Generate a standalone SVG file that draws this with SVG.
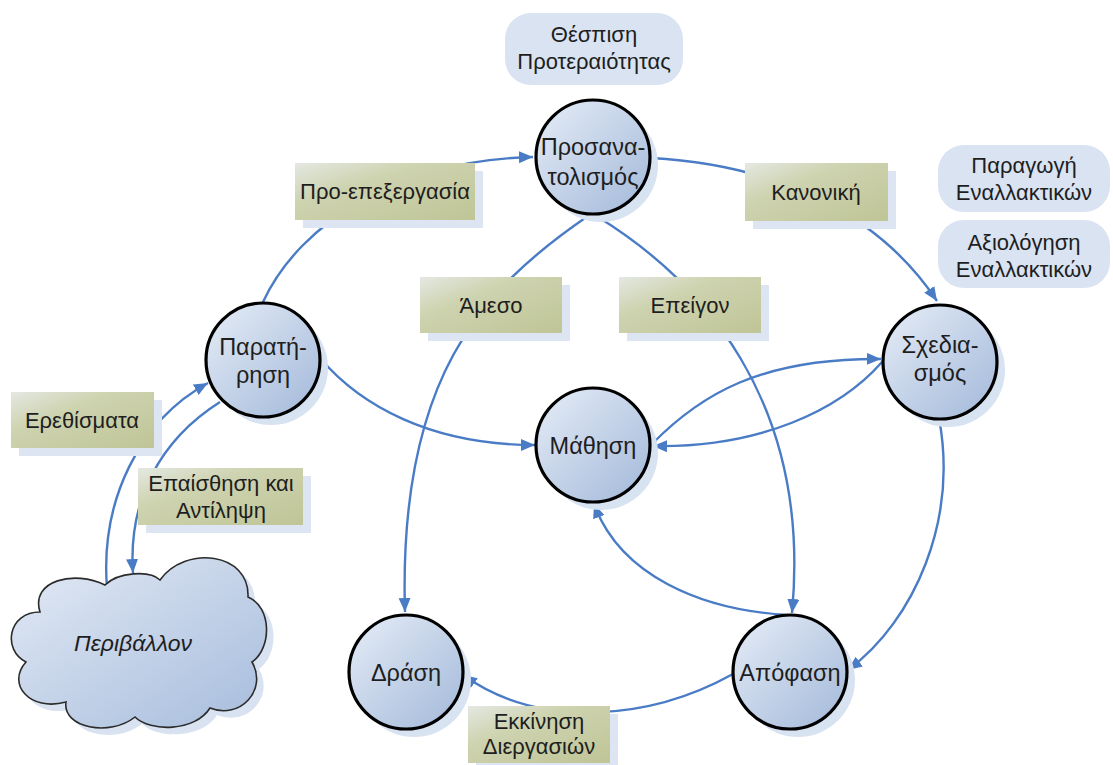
<svg xmlns="http://www.w3.org/2000/svg" width="1113" height="765" viewBox="0 0 1113 765">
<defs>
<linearGradient id="gCirc" x1="0" y1="0" x2="1" y2="1">
<stop offset="0" stop-color="#e6edf7"/>
<stop offset="1" stop-color="#a2b8d9"/>
</linearGradient>
<linearGradient id="gBox" x1="0" y1="0" x2="1" y2="1">
<stop offset="0" stop-color="#e4e8e2"/>
<stop offset="0.35" stop-color="#ced3b0"/>
<stop offset="1" stop-color="#bfc596"/>
</linearGradient>
<linearGradient id="gCloud" x1="0" y1="0" x2="1" y2="1">
<stop offset="0" stop-color="#e3eaf5"/>
<stop offset="1" stop-color="#a6bcdc"/>
</linearGradient>
<marker id="arr" markerUnits="userSpaceOnUse" markerWidth="16" markerHeight="14" refX="14" refY="6" orient="auto">
<path d="M0,0 L14,6 L0,12 Z" fill="#4a7cc6"/>
</marker>
<style>
.c{fill:none;stroke:#4a7cc6;stroke-width:2.4}
.circ{fill:url(#gCirc);stroke:#000;stroke-width:3.2}
.csh{fill:#d8e3f2}
.box{fill:url(#gBox)}
.bsh{fill:#dde5f3}
.rb{fill:#d9e3f2}
text{font-family:"Liberation Sans",Arial,sans-serif;fill:#1e1e1e;text-anchor:middle}
.t{font-size:22px}
.ct{font-size:23.5px}
</style>
</defs>
<rect width="1113" height="765" fill="#ffffff"/>

<g id="connectors">
<path class="c" d="M263,302 C300,222 400,160 533,157" marker-end="url(#arr)"/>
<path class="c" d="M651,158 C780,165 880,215 937,301" marker-end="url(#arr)"/>
<path class="c" d="M588,216 C480,290 398,380 405,612" marker-end="url(#arr)"/>
<path class="c" d="M598,217 C700,280 812,400 792,613" marker-end="url(#arr)"/>
<path class="c" d="M320,358 C360,405 430,445 535,445" marker-end="url(#arr)"/>
<path class="c" d="M652,444 C700,395 760,358 881,359" marker-end="url(#arr)"/>
<path class="c" d="M882,362 C840,410 760,448 653,446" marker-end="url(#arr)"/>
<path class="c" d="M939,418 C958,520 915,620 848,670" marker-end="url(#arr)"/>
<path class="c" d="M788,615 C700,610 620,575 594,504" marker-end="url(#arr)"/>
<path class="c" d="M733,674 C650,720 540,730 463,675" marker-end="url(#arr)"/>
<path class="c" d="M107,588 C100,500 140,420 208,383" marker-end="url(#arr)"/>
<path class="c" d="M220,402 C160,440 128,500 133,573" marker-end="url(#arr)"/>
</g>

<g id="n-thespisi">
<rect class="rb" x="505" y="13" width="178" height="72" rx="26"/>
<text class="t" x="594" y="42">Θέσπιση</text>
<text class="t" x="594" y="69">Προτεραιότητας</text>
</g>
<g id="n-paragogi">
<rect class="rb" x="938" y="145" width="172" height="67" rx="26"/>
<text class="t" x="1024" y="173">Παραγωγή</text>
<text class="t" x="1024" y="200">Εναλλακτικών</text>
</g>
<g id="n-axiologisi">
<rect class="rb" x="938" y="220" width="172" height="68" rx="26"/>
<text class="t" x="1024" y="250">Αξιολόγηση</text>
<text class="t" x="1024" y="277">Εναλλακτικών</text>
</g>

<g id="n-prosanatolismos">
<circle class="csh" cx="601" cy="165" r="57"/>
<circle class="circ" cx="593" cy="157" r="57"/>
<text class="ct" x="593" y="155">Προσανα-</text>
<text class="ct" x="593" y="185">τολισμός</text>
</g>
<g id="n-paratirisi">
<circle class="csh" cx="271" cy="368" r="57"/>
<circle class="circ" cx="263" cy="360" r="57"/>
<text class="ct" x="263" y="355">Παρατή-</text>
<text class="ct" x="263" y="383">ρηση</text>
</g>
<g id="n-mathisi">
<circle class="csh" cx="601" cy="453" r="57"/>
<circle class="circ" cx="593" cy="445" r="57"/>
<text class="ct" x="593" y="454">Μάθηση</text>
</g>
<g id="n-sxediasmos">
<circle class="csh" cx="948" cy="370" r="57"/>
<circle class="circ" cx="940" cy="362" r="57"/>
<text class="ct" x="940" y="353">Σχεδια-</text>
<text class="ct" x="940" y="381">σμός</text>
</g>
<g id="n-apofasi">
<circle class="csh" cx="798" cy="680" r="57"/>
<circle class="circ" cx="790" cy="672" r="57"/>
<text class="ct" x="790" y="681">Απόφαση</text>
</g>
<g id="n-drasi">
<circle class="csh" cx="414" cy="680" r="57"/>
<circle class="circ" cx="406" cy="672" r="57"/>
<text class="ct" x="406" y="681">Δράση</text>
</g>

<g id="n-proepexergasia">
<rect class="bsh" x="303" y="171" width="180" height="57"/>
<rect class="box" x="295" y="163" width="180" height="57"/>
<text class="t" x="385" y="199">Προ-επεξεργασία</text>
</g>
<g id="n-kanoniki">
<rect class="bsh" x="753" y="171" width="143" height="58"/>
<rect class="box" x="745" y="163" width="143" height="58"/>
<text class="t" x="816" y="200">Κανονική</text>
</g>
<g id="n-ameso">
<rect class="bsh" x="428" y="285" width="142" height="56"/>
<rect class="box" x="420" y="277" width="142" height="56"/>
<text class="t" x="491" y="313">Άμεσο</text>
</g>
<g id="n-epeigon">
<rect class="bsh" x="627" y="285" width="142" height="56"/>
<rect class="box" x="619" y="277" width="142" height="56"/>
<text class="t" x="690" y="313">Επείγον</text>
</g>
<g id="n-erethismata">
<rect class="bsh" x="19" y="400" width="143" height="56"/>
<rect class="box" x="11" y="392" width="143" height="56"/>
<text class="t" x="82" y="428">Ερεθίσματα</text>
</g>
<g id="n-epaisthisi">
<rect class="bsh" x="146" y="476" width="165" height="57"/>
<rect class="box" x="138" y="468" width="165" height="57"/>
<text class="t" x="221" y="491">Επαίσθηση και</text>
<text class="t" x="221" y="518">Αντίληψη</text>
</g>
<g id="n-ekkinisi">
<rect class="bsh" x="476" y="714" width="142" height="57"/>
<rect class="box" x="468" y="706" width="142" height="57"/>
<text class="t" x="539" y="729">Εκκίνηση</text>
<text class="t" x="539" y="754">Διεργασιών</text>
</g>

<g id="n-perivallon">
<path transform="translate(7,7)" fill="#d8e2f1" d="M40,612 C30,580 75,570 105,585 C118,572 150,570 160,580 C185,545 250,552 248,597 C272,607 272,648 252,662 C268,690 240,720 210,708 C195,732 150,732 135,717 C110,737 62,728 66,702 C30,712 6,684 26,662 C2,650 8,612 40,612 Z"/>
<path fill="url(#gCloud)" stroke="#2b2b2b" stroke-width="1.6" d="M40,612 C30,580 75,570 105,585 C118,572 150,570 160,580 C185,545 250,552 248,597 C272,607 272,648 252,662 C268,690 240,720 210,708 C195,732 150,732 135,717 C110,737 62,728 66,702 C30,712 6,684 26,662 C2,650 8,612 40,612 Z"/>
<text x="133" y="651" style="font-size:23px;font-style:italic">Περιβάλλον</text>
</g>
</svg>
